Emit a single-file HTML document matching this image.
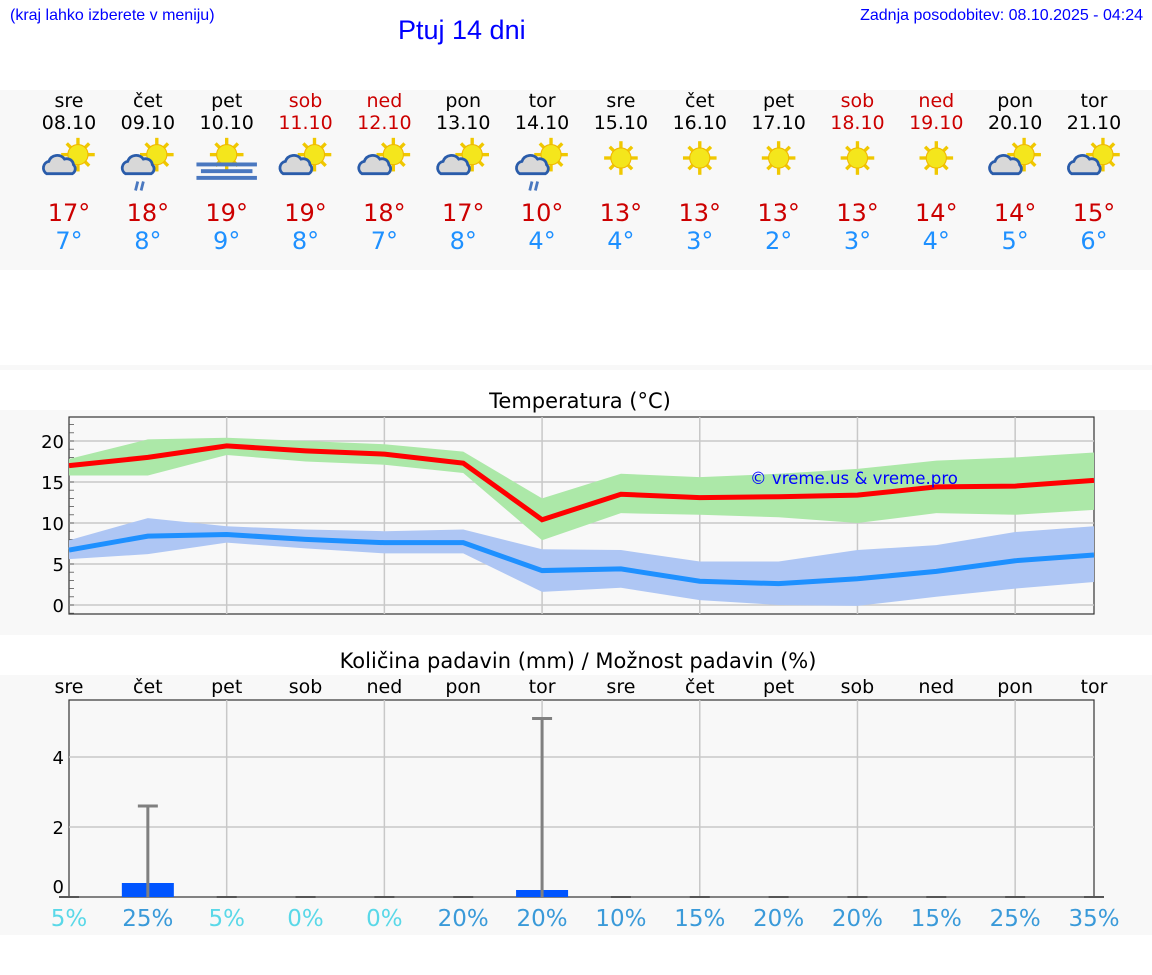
<!DOCTYPE html>
<html><head><meta charset="utf-8">
<style>
body{margin:0;width:1152px;height:975px;background:#fff;font-family:"DejaVu Sans","Liberation Sans",sans-serif;overflow:hidden;position:relative}
.abs{position:absolute}
</style></head>
<body>
<div class="abs" style="left:10px;top:7px;font-size:16px;color:#00f;font-family:'Liberation Sans',sans-serif">(kraj lahko izberete v meniju)</div>
<div class="abs" style="left:398px;top:15px;font-size:27px;color:#00f;font-family:'Liberation Sans',sans-serif">Ptuj 14 dni</div>
<div class="abs" style="right:9px;top:7px;font-size:16px;color:#00f;font-family:'Liberation Sans',sans-serif">Zadnja posodobitev: 08.10.2025 - 04:24</div>
<svg class="abs" style="left:0;top:0" width="1152" height="975">
<defs>
<g id="sun"><g stroke="#f0c800" stroke-width="3">
<line x1="0" y1="-15" x2="0" y2="-8"/><line x1="0" y1="15" x2="0" y2="8"/><line x1="-15" y1="0" x2="-8" y2="0"/><line x1="15" y1="0" x2="8" y2="0"/>
<line x1="-10" y1="-10" x2="-6" y2="-6"/><line x1="10" y1="10" x2="6" y2="6"/><line x1="-10" y1="10" x2="-6" y2="6"/><line x1="10" y1="-10" x2="6" y2="-6"/></g>
<circle r="9" fill="#f4e61c" stroke="#f0b800" stroke-width="1"/></g>
<g id="cloud"><path d="M-14 8 a6 6 0 0 1 2 -11 a8 8 0 0 1 14 -2 a6 6 0 0 1 8 5 a5 5 0 0 1 -1 8 z" fill="#d8d8d8" stroke="#2a5caa" stroke-width="2.5"/></g>
</defs>
<rect x="0" y="90" width="1152" height="180" fill="#f8f8f8"/>
<rect x="0" y="365" width="1152" height="5" fill="#f8f8f8"/>
<rect x="0" y="410" width="1152" height="225" fill="#f8f8f8"/>
<rect x="0" y="675" width="1152" height="260" fill="#f8f8f8"/>
<g id="daily"></g>
<text x="580" y="408" font-size="21" text-anchor="middle">Temperatura (°C)</text>
<rect x="69" y="417" width="1025" height="197" fill="#f8f8f8" stroke="#333" stroke-width="1.2"/>
<g id="temp"></g>
<text x="750" y="484" font-size="16.6" fill="#00f">© vreme.us &amp; vreme.pro</text>
<text x="578" y="668" font-size="21" text-anchor="middle">Količina padavin (mm) / Možnost padavin (%)</text>
<rect x="69" y="700" width="1025" height="197" fill="#f8f8f8" stroke="#333" stroke-width="1.2"/>
<g id="precip"></g>
</svg>
<script>
const days=["sre","čet","pet","sob","ned","pon","tor","sre","čet","pet","sob","ned","pon","tor"];
const dates=["08.10","09.10","10.10","11.10","12.10","13.10","14.10","15.10","16.10","17.10","18.10","19.10","20.10","21.10"];
const weekend=[0,0,0,1,1,0,0,0,0,0,1,1,0,0];
const icons=["pc","pcr","fog","pc","pc","pc","pcr","s","s","s","s","s","pc","pc"];
const tMax=[17,18,19.4,18.8,18.4,17.3,10.4,13.5,13.1,13.2,13.4,14.4,14.5,15.2];
const tMin=[6.7,8.4,8.6,8.0,7.6,7.6,4.2,4.4,2.9,2.6,3.2,4.1,5.4,6.1];
const maxHi=[17.8,20.2,20.4,20,19.6,18.7,13,16,15.6,16,16.6,17.6,18,18.6];
const maxLo=[15.8,15.8,18.3,17.5,17.1,16.1,7.9,11.2,11,10.7,10,11.2,11,11.6];
const minHi=[7.9,10.6,9.6,9.2,9,9.2,6.8,6.7,5.3,5.3,6.7,7.3,8.9,9.6];
const minLo=[5.6,6.2,7.6,6.9,6.3,6.3,1.6,2.1,0.6,0,-0.1,1,2,2.8];
const dayMax=[17,18,19,19,18,17,10,13,13,13,13,14,14,15];
const dayMin=[7,8,9,8,7,8,4,4,3,2,3,4,5,6];
const rain=[0,0.4,0,0,0,0,0.2,0,0,0,0,0,0,0];
const rainHi=[0,2.6,0,0,0,0,5.1,0,0,0,0,0,0,0];
const chance=[5,25,5,0,0,20,20,10,15,20,20,15,25,35];
const tempTicks=[0,5,10,15,20];
const rainTicks=[0,2,4];
const NS="http://www.w3.org/2000/svg";
function mk(p,t,a,txt){const e=document.createElementNS(NS,t);for(const k in a)e.setAttribute(k,a[k]);if(txt!==undefined)e.textContent=txt;p.appendChild(e);return e;}
const X=i=>69+i*(1025/13);
const Yt=v=>605-v*8.2;
const Yr=v=>897-v*35;
const D=document.getElementById('daily');
days.forEach((d,i)=>{const x=X(i);const c=weekend[i]?"#c00":"#000";
let e=mk(D,'text',{x:x,y:107,'font-size':19,'text-anchor':'middle',fill:c},d);


e=mk(D,'text',{x:x,y:129,'font-size':19,'text-anchor':'middle',fill:c},dates[i]);


const g=mk(D,'g',{transform:`translate(${x},158) scale(1.12)`});


if(icons[i]=='s'){mk(g,'use',{href:'#sun'});}
else if(icons[i]=='fog'){mk(g,'use',{href:'#sun',transform:'translate(0,-3)'});[5,11,17].forEach((y,k)=>mk(g,'rect',{x:-27+(k==1?4:0),y:y-1,width:k==1?46:54,height:3.5,fill:'#4a78c0'}));}
else{mk(g,'use',{href:'#sun',transform:'translate(8,-3)'});mk(g,'use',{href:'#cloud',transform:'translate(-6,6)'});
if(icons[i]=='pcr'){mk(g,'line',{x1:-9,y1:21,x2:-11,y2:29,stroke:'#4a78c0','stroke-width':2.5});mk(g,'line',{x1:-4,y1:21,x2:-6,y2:29,stroke:'#4a78c0','stroke-width':2.5});}}
e=mk(D,'text',{x:x,y:221,'font-size':24,'text-anchor':'middle',fill:'#c00'},dayMax[i]+'°');


e=mk(D,'text',{x:x,y:249,'font-size':24,'text-anchor':'middle',fill:'#1e90ff'},dayMin[i]+'°');


});
const T=document.getElementById('temp');
tempTicks.forEach(v=>{mk(T,'line',{x1:69,x2:1094,y1:Yt(v),y2:Yt(v),stroke:'#c8c8c8','stroke-width':1.5});
const e=mk(T,'text',{x:64,y:Yt(v)+7,'font-size':18,'text-anchor':'end'},v);

});
for(let v=-1;v<=22;v++)mk(T,'line',{x1:69,x2:74,y1:Yt(v),y2:Yt(v),stroke:'#555','stroke-width':0.8});
for(let i=2;i<13;i+=2)mk(T,'line',{x1:X(i),x2:X(i),y1:417,y2:614,stroke:'#c8c8c8','stroke-width':1.5});
function band(hi,lo,col,name){let d='M'+hi.map((v,i)=>X(i)+','+Yt(v)).join('L')+'L'+lo.map((v,i)=>X(i)+','+Yt(v)).reverse().join('L')+'Z';
const e=mk(T,'path',{d:d,fill:col});}
band(maxHi,maxLo,'#ace8a8','max-temp-range');
band(minHi,minLo,'#aec6f4','min-temp-range');
function line(a,col,name){const e=mk(T,'polyline',{points:a.map((v,i)=>X(i)+','+Yt(v)).join(' '),fill:'none',stroke:col,'stroke-width':5});
}
line(tMax,'#f00','max-temp-line');line(tMin,'#1e90ff','min-temp-line');
const P=document.getElementById('precip');
rainTicks.forEach(v=>{if(v>0)mk(P,'line',{x1:69,x2:1094,y1:Yr(v),y2:Yr(v),stroke:'#c8c8c8','stroke-width':1.5});
const e=mk(P,'text',{x:64,y:Yr(v)+(v==0?-4:7),'font-size':18,'text-anchor':'end'},v);

});
for(let i=2;i<13;i+=2)mk(P,'line',{x1:X(i),x2:X(i),y1:700,y2:897,stroke:'#c8c8c8','stroke-width':1.5});
days.forEach((d,i)=>{const x=X(i);
let e=mk(P,'text',{x:x,y:693,'font-size':19,'text-anchor':'middle'},d);


if(rain[i]>0){e=mk(P,'rect',{x:x-26,y:Yr(rain[i]),width:52,height:897-Yr(rain[i]),fill:'#0055ff'});
}
if(rainHi[i]>0){mk(P,'line',{x1:x,x2:x,y1:Yr(rainHi[i]),y2:897,stroke:'#808080','stroke-width':3});
mk(P,'line',{x1:x-10,x2:x+10,y1:Yr(rainHi[i]),y2:Yr(rainHi[i]),stroke:'#808080','stroke-width':3});}
else mk(P,'line',{x1:x-10,x2:x+10,y1:897,y2:897,stroke:'#555','stroke-width':2});
e=mk(P,'text',{x:x,y:926,'font-size':23,'text-anchor':'middle',fill:chance[i]<10?'#5ad8e8':'#3a9ad9'},chance[i]+'%');


});
</script>
</body></html>
